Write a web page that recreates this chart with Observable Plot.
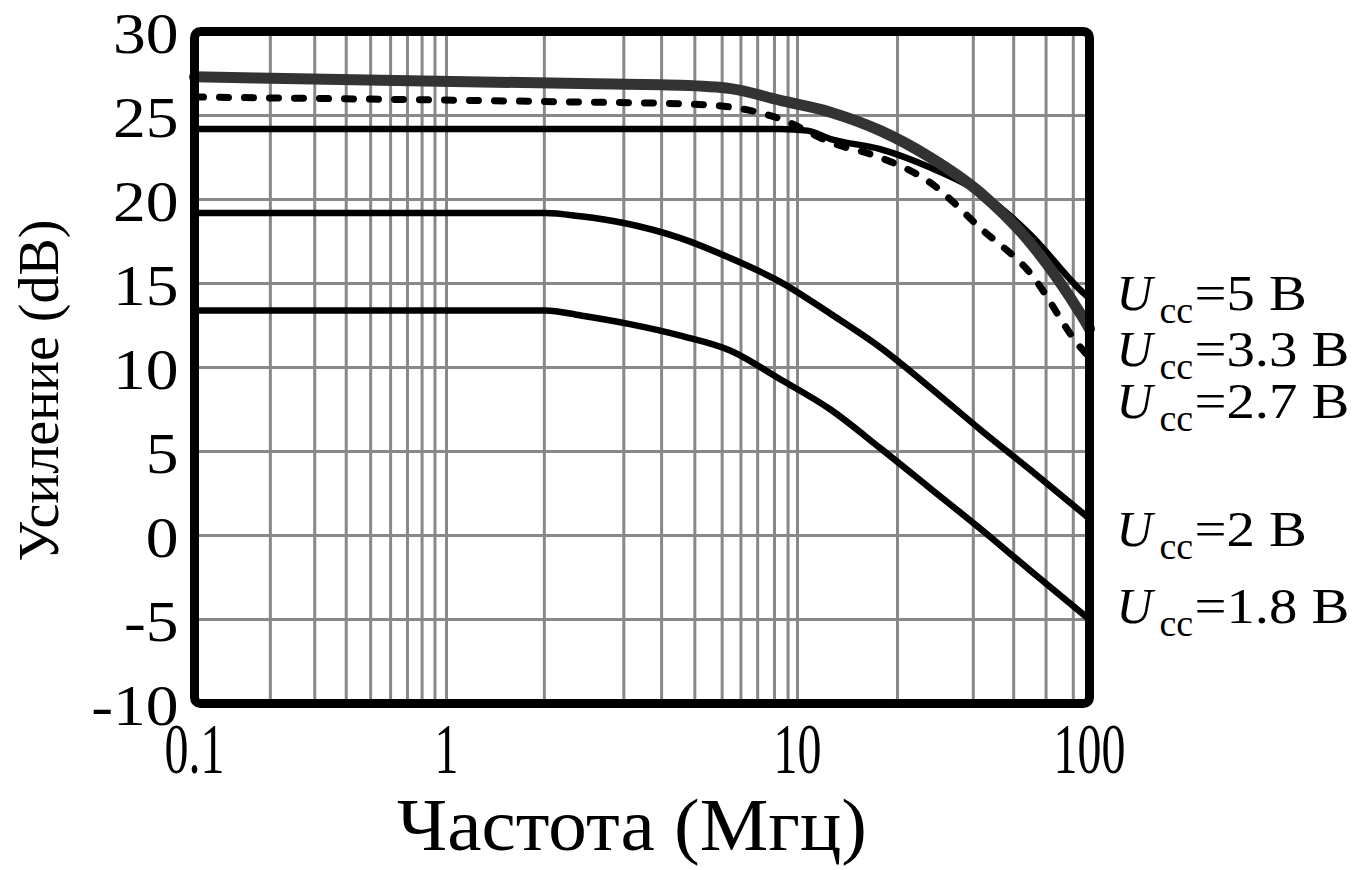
<!DOCTYPE html>
<html>
<head>
<meta charset="utf-8">
<script src="https://cdn.jsdelivr.net/npm/d3@7"></script>
<script src="https://cdn.jsdelivr.net/npm/@observablehq/plot@0.6"></script>
<style>
  html, body { margin: 0; padding: 0; background: #fff; }
  svg { display: block; }
</style>
</head>
<body>
<div id="chart"></div>
<script>
// ---- tick values / grid ----
const yTicks = [-10, -5, 0, 5, 10, 15, 20, 25, 30];
const xTickLabels = [0.1, 1, 10, 100];
const xGrid = [0.2, 0.3, 0.4, 0.5, 0.6, 0.7, 0.8, 0.9, 1,
               1.9, 3.2, 4.1, 5.1, 6.1, 6.9, 7.7, 8.6, 9.4, 10,
               22, 40, 55, 71, 88];

// ---- series (frequency MHz, gain dB) ----
const f5  = [0.1, 1, 5, 8.9, 10.8, 13, 19.2, 28.5, 42.3, 62.8, 93.1, 100];
const g5  = [24.2, 24.2, 24.2, 24.2, 24.1, 23.6, 23.0, 21.9, 20.4, 17.9, 14.6, 14.1];
const f33 = [0.1, 0.55, 2.41, 4.64, 6.45, 8.93, 12.97, 19.2, 28.5, 42.3, 62.8, 93.1, 100];
const g33 = [27.3, 27.1, 26.9, 26.8, 26.6, 25.9, 25.2, 24.1, 22.5, 20.4, 17.4, 13.2, 12.3];
const f27 = [0.1, 2.41, 4.64, 6.45, 8.93, 12.97, 19.2, 28.5, 42.3, 62.8, 93.1, 100];
const g27 = [26.1, 25.8, 25.7, 25.5, 24.8, 23.4, 22.5, 21.0, 18.3, 15.6, 11.2, 10.6];
const f2  = [0.1, 1.91, 2.41, 3.2, 4.64, 6.45, 8.93, 12.97, 19.2, 28.5, 42.3, 62.8, 100];
const g2  = [19.2, 19.2, 19.0, 18.6, 17.7, 16.5, 15.1, 13.2, 11.2, 8.8, 6.3, 3.9, 1.0];
const f18 = [0.1, 1.91, 2.41, 3.3, 4.64, 6.45, 8.93, 12.97, 19.2, 28.5, 42.3, 62.8, 100];
const g18 = [13.4, 13.4, 13.1, 12.6, 11.9, 11.0, 9.3, 7.5, 5.2, 2.8, 0.4, -2.1, -5.0];

// ---- right-hand labels ----
const labelVolts = ["5", "3.3", "2.7", "2", "1.8"];
const labelGain  = [13.4, 10.1, 7.0, -0.6, -5.2];

const xTitle = "Частота (Мгц)";
const yTitle = "Усиление (dB)";

const toRows = (f, g) => f.map((v, i) => ({f: v, g: g[i]}));
const labels = labelVolts.map((v, i) => ({v, g: labelGain[i]}));

const serif = "Liberation Serif, Times New Roman, serif";

const svg = Plot.plot({
  width: 1356,
  height: 870,
  marginLeft: 194,
  marginRight: 267,
  marginTop: 31,
  marginBottom: 167,
  x: {type: "log", domain: [0.1, 1, 10, 100], range: [194, 446, 797, 1089]},
  y: {domain: [-10, 30]},
  marks: [
    Plot.ruleX(xGrid, {stroke: "#888", strokeWidth: 3}),
    Plot.ruleY(yTicks, {stroke: "#888", strokeWidth: 3}),
    Plot.line(toRows(f5, g5), {x: "f", y: "g", stroke: "#000", strokeWidth: 6.5, curve: "monotone-x"}),
    Plot.line(toRows(f2, g2), {x: "f", y: "g", stroke: "#000", strokeWidth: 6.5, curve: "monotone-x"}),
    Plot.line(toRows(f18, g18), {x: "f", y: "g", stroke: "#000", strokeWidth: 6.5, curve: "monotone-x"}),
    Plot.line(toRows(f27, g27), {x: "f", y: "g", stroke: "#000", strokeWidth: 7, strokeDasharray: "9,16", strokeLinecap: "round", curve: "monotone-x"}),
    Plot.line(toRows(f33, g33), {x: "f", y: "g", stroke: "#333", strokeWidth: 11, curve: "monotone-x"}),
    Plot.frame({stroke: "#000", strokeWidth: 9, rx: 6}),
    Plot.axisY(yTicks, {tickSize: 0, tickPadding: 16, fontSize: 57, fontFamily: serif, dy: 3, tickFormat: d => String(d), label: null}),
    Plot.axisX(xTickLabels, {tickSize: 0, tickPadding: 18, fontSize: 72, fontFamily: serif, tickFormat: d => String(d), label: null}),
    Plot.text([yTitle], {frameAnchor: "left", dx: -154, dy: 23, rotate: -90, textAnchor: "middle", lineAnchor: "middle", text: d => d, fontSize: 56, fontFamily: serif}),
    Plot.text([xTitle], {frameAnchor: "bottom", dx: -10, dy: 146, textAnchor: "middle", lineAnchor: "bottom", text: d => d, fontSize: 74, fontFamily: serif}),
    Plot.text(labels, {x: () => 100, y: "g", text: () => "U", dx: 27, textAnchor: "start", lineAnchor: "bottom", fontSize: 50, fontStyle: "italic", fontFamily: serif}),
    Plot.text(labels, {x: () => 100, y: "g", text: () => "cc", dx: 70, dy: 13, textAnchor: "start", lineAnchor: "bottom", fontSize: 38, fontFamily: serif}),
    Plot.text(labels, {x: () => 100, y: "g", text: d => "=" + d.v + " B", dx: 105, textAnchor: "start", lineAnchor: "bottom", fontSize: 50, fontFamily: serif})
  ]
});

document.getElementById("chart").appendChild(svg);

function scaleTexts(texts, sx) {
  texts.forEach(t => {
    let tr = t.getAttribute("transform");
    if (!tr) {
      const x = t.getAttribute("x") || 0, y = t.getAttribute("y") || 0;
      t.removeAttribute("x"); t.removeAttribute("y");
      tr = `translate(${x},${y})`;
    }
    t.setAttribute("transform", tr + ` scale(${sx},1)`);
  });
}
const allTexts = [...svg.querySelectorAll("text")];
// fit widths to the reference's (condensed / stretched) lettering
const xtick = allTexts.filter(t => t.closest('g[aria-label="x-axis tick label"]'));
const t100 = xtick.find(t => t.textContent === "100");
if (t100) scaleTexts(xtick, 72 / t100.getBBox().width);
const ytick = allTexts.filter(t => t.closest('g[aria-label="y-axis tick label"]'));
scaleTexts(ytick, 1.15);
const xt = allTexts.filter(t => t.textContent === xTitle);
if (xt.length) scaleTexts(xt, 470 / xt[0].getBBox().width);
const rl = allTexts.filter(t => t.textContent.startsWith("="));
const r33 = rl.find(t => t.textContent === "=3.3 B");
if (r33) scaleTexts(rl, 155 / r33.getBBox().width);
</script>
</body>
</html>
